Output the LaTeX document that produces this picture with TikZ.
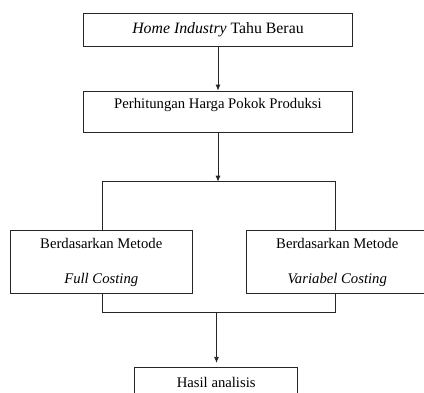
\documentclass[tikz,border=0pt]{standalone}
\usepackage{fontspec}
\setmainfont{Liberation Serif}
\usetikzlibrary{arrows.meta}
\begin{document}
\begin{tikzpicture}[x=1pt,y=-1pt,
  box/.style={draw=black!85, line width=0.8pt, inner sep=0pt, align=center,
    font=\fontsize{14.7}{35}\selectfont},
  txt/.style={inner sep=0pt, font=\fontsize{14.7}{17}\selectfont},
  conn/.style={draw=black!85, line width=0.8pt},
  arr/.style={conn, -{Latex[length=6pt,width=5pt]}}]
\useasboundingbox (0,0) rectangle (424,392);
\clip (0,0) rectangle (424,392);
\node[box, minimum width=269pt, minimum height=32.5pt, font=\fontsize{15.8}{18}\selectfont] (home) at (218,29.8) {\textit{Home Industry} Tahu Berau};
\node[box, minimum width=269pt, minimum height=41pt] (hpp) at (218,111.5) {};
\node[txt] (hpptxt) at (218,105) {Perhitungan Harga Pokok Produksi};
\node[box, minimum width=181.5pt, minimum height=62.6pt] (full) at (101.25,262) {Berdasarkan Metode\\\textit{Full Costing}};
\node[box, minimum width=181.5pt, minimum height=62.6pt] (var) at (337.25,262) {Berdasarkan Metode\\\textit{Variabel Costing}};
\node[box, minimum width=163pt, minimum height=30pt] (hasil) at (216.2,382.3) {Hasil analisis};
\coordinate (topc) at (218,181.7);
\coordinate (topl) at (102.5,181.7);
\coordinate (topr) at (335,181.7);
\coordinate (botl) at (102.5,312.7);
\coordinate (botr) at (335,312.7);
\coordinate (botc) at (216.5,312.7);
\draw[arr] (home) -- (hpp);
\draw[arr] (hpp) -- (topc);
\draw[conn] (topl |- full.north) -- (topl) -- (topr) -- (topr |- var.north);
\draw[conn] (botl |- full.south) -- (botl) -- (botr) -- (botr |- var.south);
\draw[arr, shorten >=4pt] (botc) -- (botc |- hasil.north);
\end{tikzpicture}
\end{document}
